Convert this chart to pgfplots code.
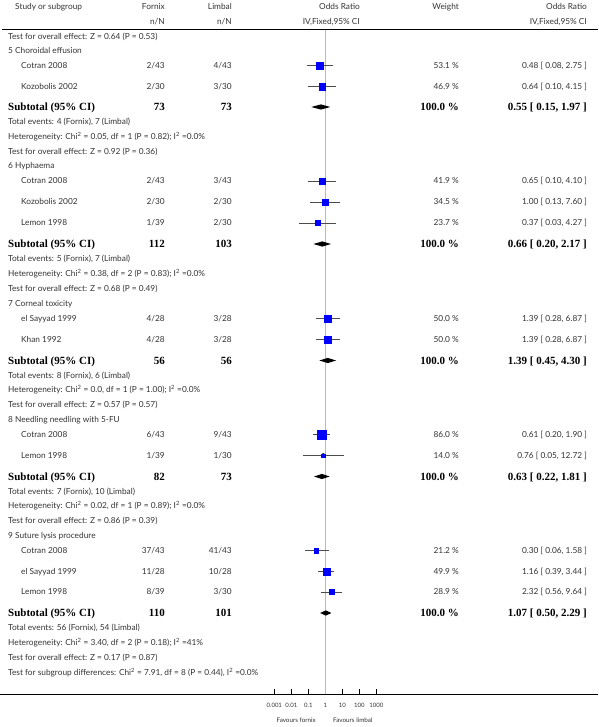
\documentclass[border=0pt]{standalone}
\usepackage{fontspec}
\setmainfont{Lato}
\newfontfamily\bser{Liberation Serif}
\usepackage{pgfplots}
\pgfplotsset{compat=1.18}
\usepackage{pgfplotstable}

% study rows: y = row position (px from top), or/lo/hi = odds ratio and 95% CI, w = weight (%)
\pgfplotstableread{
y or lo hi w
65.5 0.48 0.08 2.75 53.1
86.5 0.64 0.10 4.15 46.9
181 0.65 0.10 4.10 41.9
202 1.00 0.13 7.60 34.5
223 0.37 0.03 4.27 23.7
318.5 1.39 0.28 6.87 50.0
339.5 1.39 0.28 6.87 50.0
434.5 0.61 0.20 1.90 86.0
455.5 0.76 0.05 12.72 14.0
550.5 0.30 0.06 1.58 21.2
571.5 1.16 0.39 3.44 49.9
592 2.32 0.56 9.64 28.9
}\studies

\tikzset{
  txt/.style={font=\fontsize{8.3}{9}\selectfont, text=black!80, inner sep=0pt},
  bld/.style={font=\bser\bfseries\fontsize{11}{12}\selectfont, text=black, inner sep=0pt}
}
\newcommand{\tl}[2]{\node[anchor=base west, txt, yshift=-2.8pt] at (8pt,-#1pt) {#2};}
\newcommand{\hd}[2]{\node[anchor=base west, txt, yshift=-2.8pt] at (8pt,-#1pt) {#2};}
\newcommand{\study}[6]{%
  \node[anchor=base west, txt, yshift=-2.8pt] at (21pt,-#1pt) {#2};
  \node[anchor=base east, txt, yshift=-2.8pt] at (165pt,-#1pt) {#3};
  \node[anchor=base east, txt, yshift=-2.8pt] at (232pt,-#1pt) {#4};
  \node[anchor=base east, txt, yshift=-2.8pt] at (459pt,-#1pt) {#5};
  \node[anchor=base east, txt, yshift=-2.8pt] at (587pt,-#1pt) {#6};}
\newcommand{\subt}[4]{%
  \node[anchor=base west, bld, yshift=-3.6pt] at (8pt,-#1pt) {Subtotal (95\% CI)};
  \node[anchor=base east, bld, yshift=-3.6pt] at (165pt,-#1pt) {#2};
  \node[anchor=base east, bld, yshift=-3.6pt] at (232pt,-#1pt) {#3};
  \node[anchor=base east, bld, yshift=-3.6pt] at (459pt,-#1pt) {100.0 \%};
  \node[anchor=base east, bld, yshift=-3.6pt] at (587pt,-#1pt) {#4};}

\begin{document}
\begin{tikzpicture}
\useasboundingbox (0pt,0pt) rectangle (598pt,-727pt);
\begin{axis}[
  at={(240.3pt,0pt)}, anchor=north west,
  width=170pt, height=694pt, scale only axis,
  xmode=log, xmin=1e-5, xmax=1e5, ymin=-694, ymax=0,
  axis x line=bottom, axis y line=none,
  x axis line style={draw=none},
  xtick={0.001,0.01,0.1,1,10,100,1000},
  xticklabels={0.001,0.01,0.1,1,10,100,1000},
  xminorticks=false,
  tick align=inside, major tick length=5pt,
  major tick style={black, line width=0.9pt},
  xticklabel style={font=\fontsize{6}{7}\selectfont, text=black!80, inner sep=0pt, yshift=-9pt},
  clip=false,
]
% reference line at OR = 1
\addplot[gray!55, line width=0.7pt] coordinates {(1,-29) (1,-694)};
% confidence intervals
\addplot[only marks, mark=none,
  error bars/.cd, x dir=both, x explicit, error mark=none,
  error bar style={black!70, line width=0.6pt}]
  table[x=or, y expr=-\thisrow{y},
        x error plus expr=\thisrow{hi}-\thisrow{or},
        x error minus expr=\thisrow{or}-\thisrow{lo}] {\studies};
% weighted squares
\addplot[scatter, only marks, mark=square*, point meta=0,
  scatter/use mapped color={draw=blue, fill=blue},
  visualization depends on={0.48*sqrt(\thisrow{w}) \as \msize},
  scatter/@pre marker code/.append style={/tikz/mark size=\msize}]
  table[x=or, y expr=-\thisrow{y}] {\studies};
% pooled diamonds
\addplot[fill=black, draw=none] coordinates {(0.15,-107) (0.55,-104.4) (1.97,-107) (0.55,-109.6)};
\addplot[fill=black, draw=none] coordinates {(0.20,-244) (0.66,-241.4) (2.17,-244) (0.66,-246.6)};
\addplot[fill=black, draw=none] coordinates {(0.45,-360.5) (1.39,-357.9) (4.30,-360.5) (1.39,-363.1)};
\addplot[fill=black, draw=none] coordinates {(0.22,-476.5) (0.63,-473.9) (1.81,-476.5) (0.63,-479.1)};
\addplot[fill=black, draw=none] coordinates {(0.50,-613) (1.07,-610.4) (2.29,-613) (1.07,-615.6)};
\end{axis}

% rules
\draw[line width=0.8pt] (2pt,-29pt) -- (598pt,-29pt);
\draw[line width=0.8pt] (0pt,-694pt) -- (598pt,-694pt);

% header
\node[anchor=base west, txt] at (15pt,-9.5pt) {Study or subgroup};
\node[anchor=base east, txt] at (165pt,-9.5pt) {Fornix};
\node[anchor=base east, txt] at (165pt,-24.5pt) {n/N};
\node[anchor=base east, txt] at (232pt,-9.5pt) {Limbal};
\node[anchor=base east, txt] at (232pt,-24.5pt) {n/N};
\node[anchor=base east, txt] at (360pt,-9.5pt) {Odds Ratio};
\node[anchor=base east, txt] at (360pt,-24.5pt) {IV,Fixed,95\% CI};
\node[anchor=base east, txt] at (459pt,-9.5pt) {Weight};
\node[anchor=base east, txt] at (587pt,-9.5pt) {Odds Ratio};
\node[anchor=base east, txt] at (587pt,-24.5pt) {IV,Fixed,95\% CI};

% group 5
\tl{37}{Test for overall effect: Z = 0.64 (P = 0.53)}
\hd{51}{5 Choroidal effusion}
\study{65.5}{Cotran 2008}{2/43}{4/43}{53.1 \%}{0.48 [ 0.08, 2.75 ]}
\study{86.5}{Kozobolis 2002}{2/30}{3/30}{46.9 \%}{0.64 [ 0.10, 4.15 ]}
\subt{107}{73}{73}{0.55 [ 0.15, 1.97 ]}
\tl{122}{Total events: 4 (Fornix), 7 (Limbal)}
\tl{137}{Heterogeneity: Chi\textsuperscript{2} = 0.05, df = 1 (P = 0.82); I\textsuperscript{2} =0.0\%}
\tl{151.5}{Test for overall effect: Z = 0.92 (P = 0.36)}
% group 6
\hd{166}{6 Hyphaema}
\study{181}{Cotran 2008}{2/43}{3/43}{41.9 \%}{0.65 [ 0.10, 4.10 ]}
\study{202}{Kozobolis 2002}{2/30}{2/30}{34.5 \%}{1.00 [ 0.13, 7.60 ]}
\study{223}{Lemon 1998}{1/39}{2/30}{23.7 \%}{0.37 [ 0.03, 4.27 ]}
\subt{244}{112}{103}{0.66 [ 0.20, 2.17 ]}
\tl{259}{Total events: 5 (Fornix), 7 (Limbal)}
\tl{274}{Heterogeneity: Chi\textsuperscript{2} = 0.38, df = 2 (P = 0.83); I\textsuperscript{2} =0.0\%}
\tl{288.5}{Test for overall effect: Z = 0.68 (P = 0.49)}
% group 7
\hd{303.5}{7 Corneal toxicity}
\study{318.5}{el Sayyad 1999}{4/28}{3/28}{50.0 \%}{1.39 [ 0.28, 6.87 ]}
\study{339.5}{Khan 1992}{4/28}{3/28}{50.0 \%}{1.39 [ 0.28, 6.87 ]}
\subt{360.5}{56}{56}{1.39 [ 0.45, 4.30 ]}
\tl{375.5}{Total events: 8 (Fornix), 6 (Limbal)}
\tl{390}{Heterogeneity: Chi\textsuperscript{2} = 0.0, df = 1 (P = 1.00); I\textsuperscript{2} =0.0\%}
\tl{404.5}{Test for overall effect: Z = 0.57 (P = 0.57)}
% group 8
\hd{419.5}{8 Needling needling with 5-FU}
\study{434.5}{Cotran 2008}{6/43}{9/43}{86.0 \%}{0.61 [ 0.20, 1.90 ]}
\study{455.5}{Lemon 1998}{1/39}{1/30}{14.0 \%}{0.76 [ 0.05, 12.72 ]}
\subt{476.5}{82}{73}{0.63 [ 0.22, 1.81 ]}
\tl{491.5}{Total events: 7 (Fornix), 10 (Limbal)}
\tl{506}{Heterogeneity: Chi\textsuperscript{2} = 0.02, df = 1 (P = 0.89); I\textsuperscript{2} =0.0\%}
\tl{520.5}{Test for overall effect: Z = 0.86 (P = 0.39)}
% group 9
\hd{535.5}{9 Suture lysis procedure}
\study{550.5}{Cotran 2008}{37/43}{41/43}{21.2 \%}{0.30 [ 0.06, 1.58 ]}
\study{571.5}{el Sayyad 1999}{11/28}{10/28}{49.9 \%}{1.16 [ 0.39, 3.44 ]}
\study{592}{Lemon 1998}{8/39}{3/30}{28.9 \%}{2.32 [ 0.56, 9.64 ]}
\subt{613}{110}{101}{1.07 [ 0.50, 2.29 ]}
\tl{628}{Total events: 56 (Fornix), 54 (Limbal)}
\tl{643}{Heterogeneity: Chi\textsuperscript{2} = 3.40, df = 2 (P = 0.18); I\textsuperscript{2} =41\%}
\tl{657.5}{Test for overall effect: Z = 0.17 (P = 0.87)}
\tl{672.5}{Test for subgroup differences: Chi\textsuperscript{2} = 7.91, df = 8 (P = 0.44), I\textsuperscript{2} =0.0\%}

% favours labels
\node[anchor=base east, font=\fontsize{6.3}{7}\selectfont, text=black!80, inner sep=0pt] at (316pt,-722pt) {Favours fornix};
\node[anchor=base west, font=\fontsize{6.3}{7}\selectfont, text=black!80, inner sep=0pt] at (333pt,-722pt) {Favours limbal};
\end{tikzpicture}
\end{document}
